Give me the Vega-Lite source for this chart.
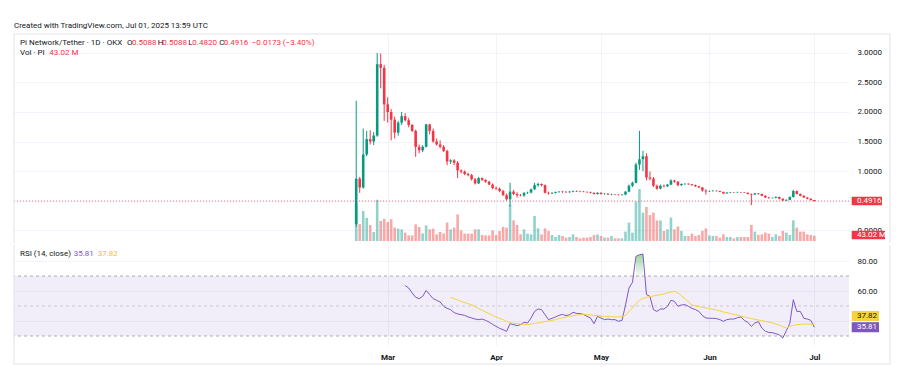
{
"$schema": "https://vega.github.io/schema/vega-lite/v6.json",
"background": "white",
"padding": {"left": 13, "top": 21, "right": 0, "bottom": 0},
"spacing": 0,
"config": {
  "view": {"stroke": null},
  "axis": {"domain": false, "ticks": false, "gridColor": "#f0f3fa", "labelFont": "Roboto", "labelFontSize": 8, "labelColor": "#131722", "labelOverlap": false, "labelBound": false},
  "text": {"font": "Roboto", "fontSize": 8}
},
"data": {"values": [
{"d":"2025-02-20","o":0.10,"h":2.19,"l":0.05,"c":0.87,"v":300},
{"d":"2025-02-21","o":0.87,"h":0.90,"l":0.63,"c":0.72,"v":135},
{"d":"2025-02-22","o":0.72,"h":1.72,"l":0.70,"c":1.28,"v":240},
{"d":"2025-02-23","o":1.28,"h":1.68,"l":1.25,"c":1.54,"v":185},
{"d":"2025-02-24","o":1.54,"h":1.69,"l":1.45,"c":1.50,"v":128},
{"d":"2025-02-25","o":1.50,"h":1.66,"l":1.44,"c":1.60,"v":72},
{"d":"2025-02-26","o":1.60,"h":3.00,"l":1.58,"c":2.81,"v":330},
{"d":"2025-02-27","o":2.81,"h":2.99,"l":2.40,"c":2.75,"v":160},
{"d":"2025-02-28","o":2.75,"h":2.80,"l":1.85,"c":2.13,"v":178},
{"d":"2025-03-01","o":2.13,"h":2.25,"l":1.82,"c":2.00,"v":152},
{"d":"2025-03-02","o":2.00,"h":2.05,"l":1.52,"c":1.87,"v":174},
{"d":"2025-03-03","o":1.87,"h":1.92,"l":1.55,"c":1.65,"v":107},
{"d":"2025-03-04","o":1.65,"h":1.85,"l":1.60,"c":1.82,"v":99},
{"d":"2025-03-05","o":1.82,"h":2.00,"l":1.78,"c":1.93,"v":93},
{"d":"2025-03-06","o":1.93,"h":1.98,"l":1.84,"c":1.86,"v":67,"rsi":63.6},
{"d":"2025-03-07","o":1.86,"h":1.90,"l":1.74,"c":1.78,"v":45,"rsi":62.0},
{"d":"2025-03-08","o":1.78,"h":1.80,"l":1.66,"c":1.68,"v":45,"rsi":58.7},
{"d":"2025-03-09","o":1.68,"h":1.70,"l":1.24,"c":1.41,"v":133,"rsi":55.8},
{"d":"2025-03-10","o":1.41,"h":1.45,"l":1.30,"c":1.35,"v":112,"rsi":54.9},
{"d":"2025-03-11","o":1.35,"h":1.44,"l":1.32,"c":1.41,"v":61,"rsi":56.4},
{"d":"2025-03-12","o":1.41,"h":1.80,"l":1.40,"c":1.79,"v":125,"rsi":60.4},
{"d":"2025-03-13","o":1.79,"h":1.80,"l":1.62,"c":1.68,"v":93,"rsi":57.6},
{"d":"2025-03-14","o":1.68,"h":1.72,"l":1.48,"c":1.50,"v":99,"rsi":54.9},
{"d":"2025-03-15","o":1.50,"h":1.55,"l":1.43,"c":1.45,"v":53,"rsi":53.8},
{"d":"2025-03-16","o":1.45,"h":1.52,"l":1.38,"c":1.41,"v":72,"rsi":52.7},
{"d":"2025-03-17","o":1.41,"h":1.44,"l":1.32,"c":1.34,"v":61,"rsi":49.8},
{"d":"2025-03-18","o":1.34,"h":1.36,"l":1.10,"c":1.16,"v":147,"rsi":48.4},
{"d":"2025-03-19","o":1.16,"h":1.20,"l":1.12,"c":1.18,"v":93,"rsi":47.6,"ma":55.8},
{"d":"2025-03-20","o":1.18,"h":1.20,"l":1.10,"c":1.14,"v":107,"rsi":45.6,"ma":54.9},
{"d":"2025-03-21","o":1.14,"h":1.17,"l":0.88,"c":1.01,"v":213,"rsi":44.7,"ma":54.0},
{"d":"2025-03-22","o":1.01,"h":1.03,"l":0.96,"c":0.99,"v":85,"rsi":44.2,"ma":53.1},
{"d":"2025-03-23","o":0.99,"h":1.01,"l":0.93,"c":0.95,"v":59,"rsi":43.8,"ma":52.3},
{"d":"2025-03-24","o":0.95,"h":0.97,"l":0.91,"c":0.93,"v":59,"rsi":42.7,"ma":51.6},
{"d":"2025-03-25","o":0.93,"h":0.95,"l":0.84,"c":0.86,"v":59,"rsi":42.0,"ma":50.7},
{"d":"2025-03-26","o":0.86,"h":0.88,"l":0.77,"c":0.79,"v":93,"rsi":41.3,"ma":49.6},
{"d":"2025-03-27","o":0.79,"h":0.90,"l":0.78,"c":0.88,"v":93,"rsi":40.9,"ma":48.3},
{"d":"2025-03-28","o":0.88,"h":0.89,"l":0.83,"c":0.85,"v":48,"rsi":41.3,"ma":47.2},
{"d":"2025-03-29","o":0.85,"h":0.86,"l":0.80,"c":0.82,"v":45,"rsi":40.4,"ma":46.0},
{"d":"2025-03-30","o":0.82,"h":0.83,"l":0.76,"c":0.77,"v":45,"rsi":39.3,"ma":44.9},
{"d":"2025-03-31","o":0.77,"h":0.79,"l":0.69,"c":0.71,"v":85,"rsi":37.8,"ma":43.8},
{"d":"2025-04-01","o":0.71,"h":0.74,"l":0.68,"c":0.70,"v":48,"rsi":36.4,"ma":42.7},
{"d":"2025-04-02","o":0.70,"h":0.72,"l":0.64,"c":0.66,"v":80,"rsi":35.1,"ma":41.8},
{"d":"2025-04-03","o":0.66,"h":0.68,"l":0.58,"c":0.59,"v":112,"rsi":34.2,"ma":40.9},
{"d":"2025-04-04","o":0.59,"h":0.62,"l":0.50,"c":0.52,"v":107,"rsi":33.1,"ma":39.8},
{"d":"2025-04-05","o":0.52,"h":0.80,"l":0.40,"c":0.65,"v":290,"rsi":38.2,"ma":38.9},
{"d":"2025-04-06","o":0.65,"h":0.68,"l":0.59,"c":0.61,"v":165,"rsi":37.6,"ma":38.4},
{"d":"2025-04-07","o":0.61,"h":0.64,"l":0.55,"c":0.59,"v":128,"rsi":36.9,"ma":38.2},
{"d":"2025-04-08","o":0.59,"h":0.61,"l":0.57,"c":0.585,"v":53,"rsi":37.6,"ma":38.0},
{"d":"2025-04-09","o":0.585,"h":0.64,"l":0.56,"c":0.63,"v":93,"rsi":39.1,"ma":37.8},
{"d":"2025-04-10","o":0.63,"h":0.65,"l":0.61,"c":0.635,"v":59,"rsi":38.7,"ma":37.6},
{"d":"2025-04-11","o":0.635,"h":0.70,"l":0.62,"c":0.69,"v":53,"rsi":42.0,"ma":38.0},
{"d":"2025-04-12","o":0.69,"h":0.80,"l":0.68,"c":0.76,"v":200,"rsi":46.4,"ma":38.4},
{"d":"2025-04-13","o":0.76,"h":0.80,"l":0.73,"c":0.78,"v":101,"rsi":48.0,"ma":38.7},
{"d":"2025-04-14","o":0.78,"h":0.79,"l":0.74,"c":0.76,"v":53,"rsi":47.6,"ma":39.1},
{"d":"2025-04-15","o":0.76,"h":0.77,"l":0.62,"c":0.63,"v":101,"rsi":44.2,"ma":39.6},
{"d":"2025-04-16","o":0.63,"h":0.65,"l":0.60,"c":0.62,"v":80,"rsi":40.9,"ma":40.0},
{"d":"2025-04-17","o":0.62,"h":0.64,"l":0.61,"c":0.63,"v":48,"rsi":41.8,"ma":40.4},
{"d":"2025-04-18","o":0.63,"h":0.65,"l":0.62,"c":0.645,"v":32,"rsi":42.7,"ma":40.9},
{"d":"2025-04-19","o":0.645,"h":0.66,"l":0.63,"c":0.65,"v":48,"rsi":43.8,"ma":41.6},
{"d":"2025-04-20","o":0.65,"h":0.66,"l":0.63,"c":0.645,"v":40,"rsi":44.4,"ma":42.0},
{"d":"2025-04-21","o":0.645,"h":0.66,"l":0.63,"c":0.64,"v":27,"rsi":43.6,"ma":42.7},
{"d":"2025-04-22","o":0.64,"h":0.66,"l":0.63,"c":0.65,"v":32,"rsi":44.2,"ma":43.1},
{"d":"2025-04-23","o":0.65,"h":0.67,"l":0.64,"c":0.66,"v":53,"rsi":45.8,"ma":43.6},
{"d":"2025-04-24","o":0.66,"h":0.67,"l":0.645,"c":0.655,"v":32,"rsi":45.1,"ma":44.0},
{"d":"2025-04-25","o":0.655,"h":0.665,"l":0.64,"c":0.65,"v":21,"rsi":44.9,"ma":44.2},
{"d":"2025-04-26","o":0.65,"h":0.66,"l":0.64,"c":0.645,"v":27,"rsi":44.4,"ma":44.2},
{"d":"2025-04-27","o":0.645,"h":0.655,"l":0.63,"c":0.64,"v":27,"rsi":43.1,"ma":44.2},
{"d":"2025-04-28","o":0.64,"h":0.65,"l":0.62,"c":0.63,"v":32,"rsi":42.0,"ma":44.0},
{"d":"2025-04-29","o":0.63,"h":0.635,"l":0.60,"c":0.61,"v":48,"rsi":38.2,"ma":43.8},
{"d":"2025-04-30","o":0.61,"h":0.64,"l":0.60,"c":0.63,"v":53,"rsi":43.1,"ma":43.6},
{"d":"2025-05-01","o":0.63,"h":0.64,"l":0.60,"c":0.61,"v":40,"rsi":42.0,"ma":43.3},
{"d":"2025-05-02","o":0.61,"h":0.625,"l":0.60,"c":0.615,"v":27,"rsi":40.9,"ma":43.1},
{"d":"2025-05-03","o":0.615,"h":0.62,"l":0.595,"c":0.60,"v":27,"rsi":41.3,"ma":43.1},
{"d":"2025-05-04","o":0.60,"h":0.615,"l":0.59,"c":0.605,"v":40,"rsi":40.9,"ma":42.9},
{"d":"2025-05-05","o":0.605,"h":0.61,"l":0.59,"c":0.60,"v":21,"rsi":40.9,"ma":42.7},
{"d":"2025-05-06","o":0.60,"h":0.605,"l":0.585,"c":0.595,"v":21,"rsi":39.8,"ma":42.7},
{"d":"2025-05-07","o":0.595,"h":0.61,"l":0.585,"c":0.60,"v":21,"rsi":40.4,"ma":42.9},
{"d":"2025-05-08","o":0.60,"h":0.66,"l":0.59,"c":0.65,"v":75,"rsi":50.5,"ma":44.0},
{"d":"2025-05-09","o":0.65,"h":0.77,"l":0.64,"c":0.75,"v":147,"rsi":62.0,"ma":46.2},
{"d":"2025-05-10","o":0.75,"h":0.82,"l":0.73,"c":0.80,"v":67,"rsi":65.8,"ma":48.7},
{"d":"2025-05-11","o":0.80,"h":1.14,"l":0.79,"c":1.11,"v":315,"rsi":83.1,"ma":51.6},
{"d":"2025-05-12","o":1.11,"h":1.68,"l":1.02,"c":1.20,"v":415,"rsi":84.2,"ma":53.8},
{"d":"2025-05-13","o":1.20,"h":1.34,"l":1.00,"c":1.25,"v":227,"rsi":84.7,"ma":55.1},
{"d":"2025-05-14","o":1.25,"h":1.30,"l":0.84,"c":0.89,"v":272,"rsi":57.6,"ma":55.8},
{"d":"2025-05-15","o":0.89,"h":0.99,"l":0.84,"c":0.87,"v":208,"rsi":56.4,"ma":56.2},
{"d":"2025-05-16","o":0.87,"h":0.90,"l":0.73,"c":0.75,"v":227,"rsi":47.6,"ma":56.7},
{"d":"2025-05-17","o":0.75,"h":0.77,"l":0.68,"c":0.70,"v":165,"rsi":46.4,"ma":57.1},
{"d":"2025-05-18","o":0.70,"h":0.77,"l":0.69,"c":0.75,"v":165,"rsi":48.0,"ma":57.6},
{"d":"2025-05-19","o":0.75,"h":0.77,"l":0.72,"c":0.74,"v":80,"rsi":48.0,"ma":58.0},
{"d":"2025-05-20","o":0.74,"h":0.78,"l":0.73,"c":0.77,"v":93,"rsi":49.8,"ma":58.7},
{"d":"2025-05-21","o":0.77,"h":0.86,"l":0.76,"c":0.84,"v":187,"rsi":53.8,"ma":59.3},
{"d":"2025-05-22","o":0.84,"h":0.85,"l":0.80,"c":0.82,"v":93,"rsi":53.1,"ma":59.8},
{"d":"2025-05-23","o":0.82,"h":0.83,"l":0.74,"c":0.76,"v":116,"rsi":49.8,"ma":58.7},
{"d":"2025-05-24","o":0.76,"h":0.79,"l":0.745,"c":0.78,"v":80,"rsi":50.7,"ma":56.9},
{"d":"2025-05-25","o":0.78,"h":0.79,"l":0.76,"c":0.785,"v":40,"rsi":50.9,"ma":54.9},
{"d":"2025-05-26","o":0.785,"h":0.79,"l":0.765,"c":0.775,"v":40,"rsi":49.8,"ma":52.7},
{"d":"2025-05-27","o":0.775,"h":0.78,"l":0.75,"c":0.76,"v":59,"rsi":48.4,"ma":50.7},
{"d":"2025-05-28","o":0.76,"h":0.77,"l":0.73,"c":0.74,"v":40,"rsi":47.6,"ma":50.0},
{"d":"2025-05-29","o":0.74,"h":0.75,"l":0.71,"c":0.72,"v":48,"rsi":46.4,"ma":49.6},
{"d":"2025-05-30","o":0.72,"h":0.73,"l":0.65,"c":0.67,"v":80,"rsi":43.6,"ma":49.1},
{"d":"2025-05-31","o":0.67,"h":0.69,"l":0.60,"c":0.655,"v":101,"rsi":42.0,"ma":48.7},
{"d":"2025-06-01","o":0.655,"h":0.67,"l":0.645,"c":0.66,"v":45,"rsi":41.8,"ma":48.2},
{"d":"2025-06-02","o":0.66,"h":0.675,"l":0.65,"c":0.665,"v":40,"rsi":41.8,"ma":47.8},
{"d":"2025-06-03","o":0.665,"h":0.67,"l":0.65,"c":0.66,"v":40,"rsi":41.6,"ma":47.3},
{"d":"2025-06-04","o":0.66,"h":0.665,"l":0.64,"c":0.645,"v":27,"rsi":40.9,"ma":46.7},
{"d":"2025-06-05","o":0.645,"h":0.65,"l":0.61,"c":0.62,"v":53,"rsi":39.8,"ma":46.0},
{"d":"2025-06-06","o":0.62,"h":0.64,"l":0.615,"c":0.635,"v":32,"rsi":40.9,"ma":45.6},
{"d":"2025-06-07","o":0.635,"h":0.645,"l":0.625,"c":0.64,"v":32,"rsi":41.3,"ma":44.9},
{"d":"2025-06-08","o":0.64,"h":0.645,"l":0.63,"c":0.635,"v":21,"rsi":41.3,"ma":44.4},
{"d":"2025-06-09","o":0.635,"h":0.65,"l":0.63,"c":0.64,"v":32,"rsi":42.2,"ma":44.0},
{"d":"2025-06-10","o":0.64,"h":0.645,"l":0.63,"c":0.635,"v":32,"rsi":42.7,"ma":43.3},
{"d":"2025-06-11","o":0.635,"h":0.64,"l":0.625,"c":0.63,"v":32,"rsi":40.4,"ma":42.7},
{"d":"2025-06-12","o":0.63,"h":0.635,"l":0.60,"c":0.61,"v":32,"rsi":39.1,"ma":42.2},
{"d":"2025-06-13","o":0.61,"h":0.62,"l":0.42,"c":0.60,"v":128,"rsi":36.4,"ma":41.6},
{"d":"2025-06-14","o":0.60,"h":0.63,"l":0.595,"c":0.62,"v":75,"rsi":38.7,"ma":41.1},
{"d":"2025-06-15","o":0.62,"h":0.625,"l":0.60,"c":0.61,"v":48,"rsi":39.6,"ma":40.7},
{"d":"2025-06-16","o":0.61,"h":0.615,"l":0.57,"c":0.58,"v":53,"rsi":35.3,"ma":40.2},
{"d":"2025-06-17","o":0.58,"h":0.59,"l":0.545,"c":0.55,"v":67,"rsi":33.1,"ma":39.8},
{"d":"2025-06-18","o":0.55,"h":0.56,"l":0.53,"c":0.54,"v":59,"rsi":32.4,"ma":39.3},
{"d":"2025-06-19","o":0.54,"h":0.55,"l":0.535,"c":0.545,"v":32,"rsi":32.2,"ma":38.7},
{"d":"2025-06-20","o":0.545,"h":0.57,"l":0.535,"c":0.56,"v":53,"rsi":31.6,"ma":38.0},
{"d":"2025-06-21","o":0.56,"h":0.565,"l":0.52,"c":0.53,"v":40,"rsi":30.7,"ma":37.3},
{"d":"2025-06-22","o":0.53,"h":0.535,"l":0.49,"c":0.50,"v":80,"rsi":28.7,"ma":36.2},
{"d":"2025-06-23","o":0.50,"h":0.52,"l":0.49,"c":0.51,"v":67,"rsi":33.5,"ma":35.3},
{"d":"2025-06-24","o":0.51,"h":0.57,"l":0.505,"c":0.56,"v":48,"rsi":38.5,"ma":36.4},
{"d":"2025-06-25","o":0.56,"h":0.68,"l":0.55,"c":0.66,"v":165,"rsi":54.2,"ma":37.1},
{"d":"2025-06-26","o":0.66,"h":0.67,"l":0.60,"c":0.61,"v":107,"rsi":46.4,"ma":37.6},
{"d":"2025-06-27","o":0.61,"h":0.62,"l":0.57,"c":0.58,"v":75,"rsi":46.4,"ma":37.8},
{"d":"2025-06-28","o":0.58,"h":0.59,"l":0.545,"c":0.55,"v":75,"rsi":41.8,"ma":38.0},
{"d":"2025-06-29","o":0.55,"h":0.56,"l":0.52,"c":0.53,"v":53,"rsi":41.3,"ma":38.0},
{"d":"2025-06-30","o":0.53,"h":0.54,"l":0.50,"c":0.5089,"v":48,"rsi":40.4,"ma":37.8},
{"d":"2025-07-01","o":0.5088,"h":0.5088,"l":0.482,"c":0.4916,"v":43.02,"rsi":35.81,"ma":37.82}
]},
"vconcat": [
{
  "width": 835, "height": 209,
  "resolve": {"scale": {"y": "independent"}},
  "layer": [
    {
      "mark": {"type": "bar", "size": 2.6, "opacity": 0.5},
      "encoding": {
        "x": {"field": "d", "type": "temporal", "scale": {"type": "utc", "nice": false, "padding": 0, "domain": [{"year":2024,"month":11,"date":14,"hours":3,"minutes":22,"utc":true},{"year":2025,"month":7,"date":10,"hours":22,"minutes":5,"utc":true}]}, "axis": {"values": [{"year":2025,"month":3,"date":1,"utc":true},{"year":2025,"month":4,"date":1,"utc":true},{"year":2025,"month":5,"date":1,"utc":true},{"year":2025,"month":6,"date":1,"utc":true},{"year":2025,"month":7,"date":1,"utc":true}], "labels": false, "grid": true, "title": null}},
        "y": {"field": "v", "type": "quantitative", "scale": {"domain": [-16, 1656], "nice": false, "zero": false}, "axis": null},
        "color": {"condition": {"test": "datum.c >= datum.o", "value": "#26a69a"}, "value": "#ef5350"}
      }
    },
    {
      "layer": [
        {
          "mark": {"type": "rule", "strokeWidth": 1},
          "encoding": {
            "x": {"field": "d", "type": "temporal", "axis": {"values": [{"year":2025,"month":3,"date":1,"utc":true},{"year":2025,"month":4,"date":1,"utc":true},{"year":2025,"month":5,"date":1,"utc":true},{"year":2025,"month":6,"date":1,"utc":true},{"year":2025,"month":7,"date":1,"utc":true}], "labels": false, "grid": true, "title": null}},
            "y": {"field": "l", "type": "quantitative", "scale": {"domain": [-0.2203, 3.322], "nice": false, "zero": false}, "axis": {"orient": "right", "values": [0, 0.5, 1, 1.5, 2, 2.5, 3], "tickCount": 8, "format": ".4f", "labelOverlap": false, "labelBound": false, "title": null, "grid": true, "labelPadding": 8}},
            "y2": {"field": "h"},
            "color": {"condition": {"test": "datum.c >= datum.o", "value": "#089981"}, "value": "#f23645"}
          }
        },
        {
          "mark": {"type": "bar", "size": 2.6},
          "encoding": {
            "x": {"field": "d", "type": "temporal"},
            "y": {"field": "o", "type": "quantitative", "scale": {"domain": [-0.2203, 3.322], "nice": false, "zero": false}},
            "y2": {"field": "c"},
            "color": {"condition": {"test": "datum.c >= datum.o", "value": "#089981"}, "value": "#f23645"}
          }
        },
        {
          "data": {"values": [{}]},
          "mark": {"type": "rule", "stroke": "#f23645", "strokeDash": [1, 2], "strokeWidth": 1, "opacity": 0.7},
          "encoding": {"y": {"datum": 0.4916, "type": "quantitative", "scale": {"domain": [-0.2203, 3.322], "nice": false, "zero": false}}}
        },
        {
          "data": {"values": [{}]},
          "mark": {"type": "rule", "stroke": "#e0e3eb", "strokeWidth": 1},
          "encoding": {
            "x": {"datum": {"year":2024,"month":11,"date":14,"hours":3,"minutes":22,"utc":true}, "type": "temporal"},
            "x2": {"datum": {"year":2025,"month":7,"date":22,"hours":15,"minutes":36,"utc":true}},
            "y": {"datum": 3.322, "type": "quantitative", "scale": {"domain": [-0.2203, 3.322], "nice": false, "zero": false}}
          }
        },
        {
          "data": {"values": [{}]},
          "mark": {"type": "rule", "stroke": "#e0e3eb", "strokeWidth": 1},
          "encoding": {
            "x": {"datum": {"year":2024,"month":11,"date":14,"hours":3,"minutes":22,"utc":true}, "type": "temporal"},
            "y": {"datum": 3.322, "type": "quantitative", "scale": {"domain": [-0.2203, 3.322], "nice": false, "zero": false}},
            "y2": {"datum": -0.2203}
          }
        },
        {
          "data": {"values": [{}]},
          "mark": {"type": "rule", "stroke": "#e0e3eb", "strokeWidth": 1},
          "encoding": {
            "x": {"datum": {"year":2025,"month":7,"date":22,"hours":15,"minutes":36,"utc":true}, "type": "temporal"},
            "y": {"datum": 3.322, "type": "quantitative", "scale": {"domain": [-0.2203, 3.322], "nice": false, "zero": false}},
            "y2": {"datum": -0.2203}
          }
        },
        {
          "data": {"values": [{}]},
          "mark": {"type": "rect", "color": "#f23645"},
          "encoding": {
            "x": {"datum": {"year":2025,"month":7,"date":11,"hours":16,"minutes":34,"utc":true}, "type": "temporal"},
            "x2": {"datum": {"year":2025,"month":7,"date":20,"hours":8,"minutes":38,"utc":true}},
            "y": {"datum": 0.5636, "type": "quantitative", "scale": {"domain": [-0.2203, 3.322], "nice": false, "zero": false}}, "y2": {"datum": 0.4196}
          }
        },
        {
          "data": {"values": [{}]},
          "mark": {"type": "rect", "color": "#f23645"},
          "encoding": {
            "x": {"datum": {"year":2025,"month":7,"date":11,"hours":16,"minutes":34,"utc":true}, "type": "temporal"},
            "x2": {"datum": {"year":2025,"month":7,"date":21,"hours":5,"minutes":4,"utc":true}},
            "y": {"datum": -0.013, "type": "quantitative", "scale": {"domain": [-0.2203, 3.322], "nice": false, "zero": false}}, "y2": {"datum": -0.157}
          }
        },
        {
          "data": {"values": [{}]},
          "mark": {"type": "text", "align": "left", "baseline": "middle", "color": "white"},
          "encoding": {"x": {"datum": {"year":2025,"month":7,"date":13,"hours":5,"minutes":2,"utc":true}, "type": "temporal"}, "y": {"datum": 0.4916, "type": "quantitative", "scale": {"domain": [-0.2203, 3.322], "nice": false, "zero": false}}, "text": {"value": "0.4916"}}
        },
        {
          "data": {"values": [{}]},
          "mark": {"type": "text", "align": "left", "baseline": "middle", "color": "white"},
          "encoding": {"x": {"datum": {"year":2025,"month":7,"date":13,"hours":5,"minutes":2,"utc":true}, "type": "temporal"}, "y": {"datum": -0.085, "type": "quantitative", "scale": {"domain": [-0.2203, 3.322], "nice": false, "zero": false}}, "text": {"value": "43.02 M"}}
        },
        {
          "data": {"values": [{}]},
          "mark": {"type": "text", "align": "left", "baseline": "middle", "color": "#131722"},
          "encoding": {"x": {"datum": {"year":2024,"month":11,"date":14,"hours":3,"minutes":22,"utc":true}, "type": "temporal"}, "y": {"datum": 3.458, "type": "quantitative", "scale": {"domain": [-0.2203, 3.322], "nice": false, "zero": false}}, "text": {"value": "Created with TradingView.com, Jul 01, 2025 13:59 UTC"}}
        },
        {
          "data": {"values": [{}]},
          "mark": {"type": "text", "align": "left", "baseline": "middle", "color": "#131722"},
          "encoding": {"x": {"datum": {"year":2024,"month":11,"date":15,"hours":20,"minutes":38,"utc":true}, "type": "temporal"}, "y": {"datum": 3.169, "type": "quantitative", "scale": {"domain": [-0.2203, 3.322], "nice": false, "zero": false}}, "text": {"value": "Pi Network/Tether · 1D · OKX"}}
        },
        {
          "data": {"values": [{}]},
          "mark": {"type": "text", "align": "left", "baseline": "middle", "color": "#131722", "dx": 107},
          "encoding": {"x": {"datum": {"year":2024,"month":11,"date":15,"hours":20,"minutes":38,"utc":true}, "type": "temporal"}, "y": {"datum": 3.169, "type": "quantitative", "scale": {"domain": [-0.2203, 3.322], "nice": false, "zero": false}}, "text": {"value": "O"}}
        },
        {
          "data": {"values": [{}]},
          "mark": {"type": "text", "align": "left", "baseline": "middle", "color": "#f23645", "dx": 112},
          "encoding": {"x": {"datum": {"year":2024,"month":11,"date":15,"hours":20,"minutes":38,"utc":true}, "type": "temporal"}, "y": {"datum": 3.169, "type": "quantitative", "scale": {"domain": [-0.2203, 3.322], "nice": false, "zero": false}}, "text": {"value": "0.5088"}}
        },
        {
          "data": {"values": [{}]},
          "mark": {"type": "text", "align": "left", "baseline": "middle", "color": "#131722", "dx": 137.7},
          "encoding": {"x": {"datum": {"year":2024,"month":11,"date":15,"hours":20,"minutes":38,"utc":true}, "type": "temporal"}, "y": {"datum": 3.169, "type": "quantitative", "scale": {"domain": [-0.2203, 3.322], "nice": false, "zero": false}}, "text": {"value": "H"}}
        },
        {
          "data": {"values": [{}]},
          "mark": {"type": "text", "align": "left", "baseline": "middle", "color": "#f23645", "dx": 142.3},
          "encoding": {"x": {"datum": {"year":2024,"month":11,"date":15,"hours":20,"minutes":38,"utc":true}, "type": "temporal"}, "y": {"datum": 3.169, "type": "quantitative", "scale": {"domain": [-0.2203, 3.322], "nice": false, "zero": false}}, "text": {"value": "0.5088"}}
        },
        {
          "data": {"values": [{}]},
          "mark": {"type": "text", "align": "left", "baseline": "middle", "color": "#131722", "dx": 168.3},
          "encoding": {"x": {"datum": {"year":2024,"month":11,"date":15,"hours":20,"minutes":38,"utc":true}, "type": "temporal"}, "y": {"datum": 3.169, "type": "quantitative", "scale": {"domain": [-0.2203, 3.322], "nice": false, "zero": false}}, "text": {"value": "L"}}
        },
        {
          "data": {"values": [{}]},
          "mark": {"type": "text", "align": "left", "baseline": "middle", "color": "#f23645", "dx": 172.3},
          "encoding": {"x": {"datum": {"year":2024,"month":11,"date":15,"hours":20,"minutes":38,"utc":true}, "type": "temporal"}, "y": {"datum": 3.169, "type": "quantitative", "scale": {"domain": [-0.2203, 3.322], "nice": false, "zero": false}}, "text": {"value": "0.4820"}}
        },
        {
          "data": {"values": [{}]},
          "mark": {"type": "text", "align": "left", "baseline": "middle", "color": "#131722", "dx": 199.3},
          "encoding": {"x": {"datum": {"year":2024,"month":11,"date":15,"hours":20,"minutes":38,"utc":true}, "type": "temporal"}, "y": {"datum": 3.169, "type": "quantitative", "scale": {"domain": [-0.2203, 3.322], "nice": false, "zero": false}}, "text": {"value": "C"}}
        },
        {
          "data": {"values": [{}]},
          "mark": {"type": "text", "align": "left", "baseline": "middle", "color": "#f23645", "dx": 203.7},
          "encoding": {"x": {"datum": {"year":2024,"month":11,"date":15,"hours":20,"minutes":38,"utc":true}, "type": "temporal"}, "y": {"datum": 3.169, "type": "quantitative", "scale": {"domain": [-0.2203, 3.322], "nice": false, "zero": false}}, "text": {"value": "0.4916"}}
        },
        {
          "data": {"values": [{}]},
          "mark": {"type": "text", "align": "left", "baseline": "middle", "color": "#f23645", "dx": 231.7},
          "encoding": {"x": {"datum": {"year":2024,"month":11,"date":15,"hours":20,"minutes":38,"utc":true}, "type": "temporal"}, "y": {"datum": 3.169, "type": "quantitative", "scale": {"domain": [-0.2203, 3.322], "nice": false, "zero": false}}, "text": {"value": "−0.0173 (−3.40%)"}}
        },
        {
          "data": {"values": [{}]},
          "mark": {"type": "text", "align": "left", "baseline": "middle", "color": "#131722"},
          "encoding": {"x": {"datum": {"year":2024,"month":11,"date":15,"hours":20,"minutes":38,"utc":true}, "type": "temporal"}, "y": {"datum": 3.0, "type": "quantitative", "scale": {"domain": [-0.2203, 3.322], "nice": false, "zero": false}}, "text": {"value": "Vol · PI"}}
        },
        {
          "data": {"values": [{}]},
          "mark": {"type": "text", "align": "left", "baseline": "middle", "color": "#f23645", "dx": 29.3},
          "encoding": {"x": {"datum": {"year":2024,"month":11,"date":15,"hours":20,"minutes":38,"utc":true}, "type": "temporal"}, "y": {"datum": 3.0, "type": "quantitative", "scale": {"domain": [-0.2203, 3.322], "nice": false, "zero": false}}, "text": {"value": "43.02 M"}}
        }
      ]
    }
  ]
},
{
  "width": 835, "height": 100,
  "layer": [
    {
      "data": {"values": [{}]},
      "mark": {"type": "rect", "color": "#7e57c2", "opacity": 0.1},
      "encoding": {
        "y": {"datum": 70, "type": "quantitative", "scale": {"domain": [24, 90.67], "nice": false, "zero": false}, "axis": {"orient": "right", "values": [40, 60, 80], "labelExpr": "datum.value == 40 ? '' : format(datum.value, '.2f')", "labelOverlap": false, "title": null, "grid": true, "labelPadding": 8}},
        "y2": {"datum": 30}
      }
    },
    {"data": {"values": [{}]}, "mark": {"type": "rule", "color": "#787b86", "strokeDash": [3, 3], "opacity": 0.6}, "encoding": {"y": {"datum": 70, "type": "quantitative", "scale": {"domain": [24, 90.67], "nice": false, "zero": false}}}},
    {"data": {"values": [{}]}, "mark": {"type": "rule", "color": "#787b86", "strokeDash": [3, 3], "opacity": 0.35}, "encoding": {"y": {"datum": 50, "type": "quantitative", "scale": {"domain": [24, 90.67], "nice": false, "zero": false}}}},
    {"data": {"values": [{}]}, "mark": {"type": "rule", "color": "#787b86", "strokeDash": [3, 3], "opacity": 0.6}, "encoding": {"y": {"datum": 30, "type": "quantitative", "scale": {"domain": [24, 90.67], "nice": false, "zero": false}}}},
    {
      "data": {"values": [{}]},
      "mark": {"type": "rule", "stroke": "#e0e3eb", "strokeWidth": 1},
      "encoding": {
        "x": {"datum": {"year":2024,"month":11,"date":14,"hours":3,"minutes":22,"utc":true}, "type": "temporal"},
        "y": {"datum": 90.67, "type": "quantitative", "scale": {"domain": [24, 90.67], "nice": false, "zero": false}},
        "y2": {"datum": 11.33}
      }
    },
    {
      "data": {"values": [{}]},
      "mark": {"type": "rule", "stroke": "#e0e3eb", "strokeWidth": 1},
      "encoding": {
        "x": {"datum": {"year":2025,"month":7,"date":22,"hours":15,"minutes":36,"utc":true}, "type": "temporal"},
        "y": {"datum": 90.67, "type": "quantitative", "scale": {"domain": [24, 90.67], "nice": false, "zero": false}},
        "y2": {"datum": 11.33}
      }
    },
    {
      "data": {"values": [{}]},
      "mark": {"type": "rule", "stroke": "#e0e3eb", "strokeWidth": 1},
      "encoding": {
        "x": {"datum": {"year":2024,"month":11,"date":14,"hours":3,"minutes":22,"utc":true}, "type": "temporal"},
        "x2": {"datum": {"year":2025,"month":7,"date":22,"hours":15,"minutes":36,"utc":true}},
        "y": {"datum": 11.33, "type": "quantitative", "scale": {"domain": [24, 90.67], "nice": false, "zero": false}}
      }
    },
    {
      "transform": [{"filter": "datum.rsi > 70"}],
      "mark": {"type": "area", "color": {"gradient": "linear", "x1": 0, "y1": 0, "x2": 0, "y2": 1, "stops": [{"offset": 0, "color": "rgba(76,175,80,0.55)"}, {"offset": 1, "color": "rgba(76,175,80,0.05)"}]}},
      "encoding": {
        "x": {"field": "d", "type": "temporal"},
        "y": {"field": "rsi", "type": "quantitative", "scale": {"domain": [24, 90.67], "nice": false, "zero": false}},
        "y2": {"datum": 70}
      }
    },
    {
      "mark": {"type": "line", "color": "#7e57c2", "strokeWidth": 1},
      "encoding": {
        "x": {"field": "d", "type": "temporal", "scale": {"type": "utc", "nice": false, "padding": 0, "domain": [{"year":2024,"month":11,"date":14,"hours":3,"minutes":22,"utc":true},{"year":2025,"month":7,"date":10,"hours":22,"minutes":5,"utc":true}]}, "axis": {"values": [{"year":2025,"month":3,"date":1,"utc":true},{"year":2025,"month":4,"date":1,"utc":true},{"year":2025,"month":5,"date":1,"utc":true},{"year":2025,"month":6,"date":1,"utc":true},{"year":2025,"month":7,"date":1,"utc":true}], "labelExpr": "utcFormat(datum.value, '%b')", "grid": true, "title": null, "labelFontWeight": "bold", "labelPadding": 8}},
        "y": {"field": "rsi", "type": "quantitative", "scale": {"domain": [24, 90.67], "nice": false, "zero": false}}
      }
    },
    {
      "mark": {"type": "line", "color": "#f7d23f", "strokeWidth": 1},
      "encoding": {
        "x": {"field": "d", "type": "temporal"},
        "y": {"field": "ma", "type": "quantitative", "scale": {"domain": [24, 90.67], "nice": false, "zero": false}}
      }
    },
    {
      "data": {"values": [{}]},
      "mark": {"type": "rect", "color": "#f7d23f"},
      "encoding": {
        "x": {"datum": {"year":2025,"month":7,"date":11,"hours":16,"minutes":34,"utc":true}, "type": "temporal"},
        "x2": {"datum": {"year":2025,"month":7,"date":19,"hours":12,"utc":true}},
        "y": {"datum": 46.7, "type": "quantitative", "scale": {"domain": [24, 90.67], "nice": false, "zero": false}}, "y2": {"datum": 40.0}
      }
    },
    {
      "data": {"values": [{}]},
      "mark": {"type": "rect", "color": "#7e57c2"},
      "encoding": {
        "x": {"datum": {"year":2025,"month":7,"date":11,"hours":16,"minutes":34,"utc":true}, "type": "temporal"},
        "x2": {"datum": {"year":2025,"month":7,"date":19,"hours":12,"utc":true}},
        "y": {"datum": 39.2, "type": "quantitative", "scale": {"domain": [24, 90.67], "nice": false, "zero": false}}, "y2": {"datum": 32.5}
      }
    },
    {
      "data": {"values": [{}]},
      "mark": {"type": "text", "align": "left", "baseline": "middle", "color": "#131722"},
      "encoding": {"x": {"datum": {"year":2025,"month":7,"date":13,"hours":5,"minutes":2,"utc":true}, "type": "temporal"}, "y": {"datum": 43.35, "type": "quantitative", "scale": {"domain": [24, 90.67], "nice": false, "zero": false}}, "text": {"value": "37.82"}}
    },
    {
      "data": {"values": [{}]},
      "mark": {"type": "text", "align": "left", "baseline": "middle", "color": "white"},
      "encoding": {"x": {"datum": {"year":2025,"month":7,"date":13,"hours":5,"minutes":2,"utc":true}, "type": "temporal"}, "y": {"datum": 35.85, "type": "quantitative", "scale": {"domain": [24, 90.67], "nice": false, "zero": false}}, "text": {"value": "35.81"}}
    },
    {
      "data": {"values": [{}]},
      "mark": {"type": "text", "align": "left", "baseline": "middle", "color": "#131722"},
      "encoding": {"x": {"datum": {"year":2024,"month":11,"date":15,"hours":20,"minutes":38,"utc":true}, "type": "temporal"}, "y": {"datum": 84.67, "type": "quantitative", "scale": {"domain": [24, 90.67], "nice": false, "zero": false}}, "text": {"value": "RSI (14, close)"}}
    },
    {
      "data": {"values": [{}]},
      "mark": {"type": "text", "align": "left", "baseline": "middle", "color": "#7e57c2", "dx": 53.7},
      "encoding": {"x": {"datum": {"year":2024,"month":11,"date":15,"hours":20,"minutes":38,"utc":true}, "type": "temporal"}, "y": {"datum": 84.67, "type": "quantitative", "scale": {"domain": [24, 90.67], "nice": false, "zero": false}}, "text": {"value": "35.81"}}
    },
    {
      "data": {"values": [{}]},
      "mark": {"type": "text", "align": "left", "baseline": "middle", "color": "#e9c22b", "dx": 77.7},
      "encoding": {"x": {"datum": {"year":2024,"month":11,"date":15,"hours":20,"minutes":38,"utc":true}, "type": "temporal"}, "y": {"datum": 84.67, "type": "quantitative", "scale": {"domain": [24, 90.67], "nice": false, "zero": false}}, "text": {"value": "37.82"}}
    }
  ]
}
]
}
